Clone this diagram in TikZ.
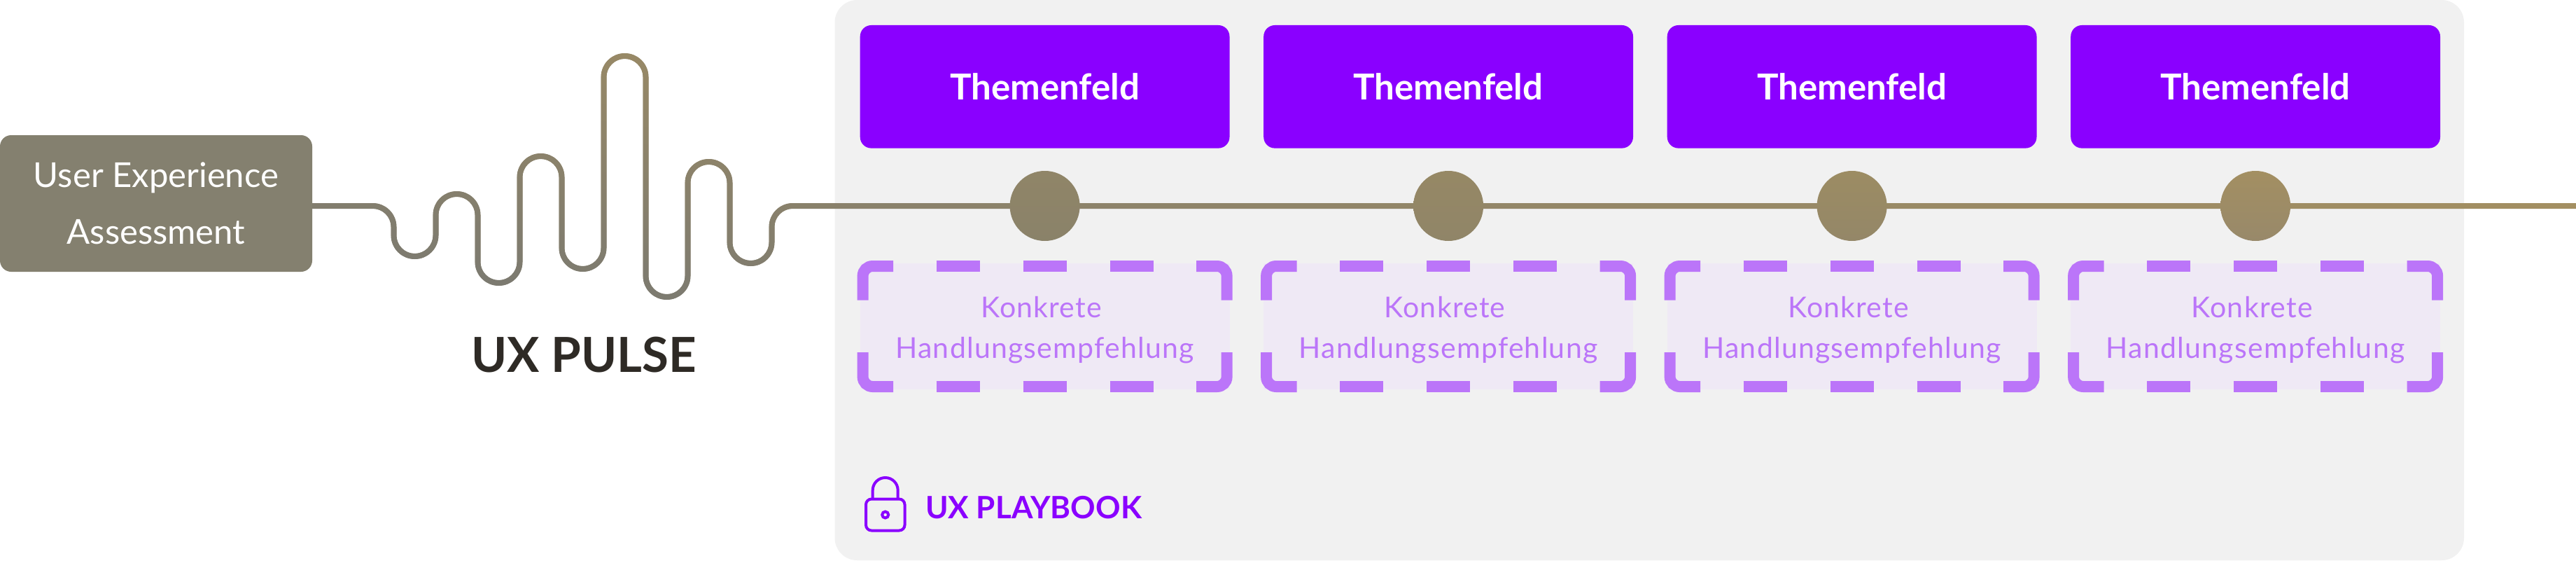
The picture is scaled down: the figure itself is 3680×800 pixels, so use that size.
\documentclass[tikz,border=0pt]{standalone}
\usepackage{fontspec}
\setmainfont{Lato}
\usetikzlibrary{backgrounds}
\definecolor{boxgrey}{HTML}{84806F}
\definecolor{themepurple}{HTML}{8A00FF}
\definecolor{dashpurple}{HTML}{BB75F9}
\definecolor{recfill}{HTML}{EFE9F5}
\definecolor{panelgrey}{HTML}{F1F1F1}
\definecolor{pulseink}{HTML}{2E2A25}
\definecolor{wirelow}{RGB}{116,118,115}
\definecolor{wirehigh}{RGB}{171,147,95}
\definecolor{wiremid}{HTML}{8B8168}
\definecolor{dotAt}{HTML}{908568}\definecolor{dotAb}{HTML}{8A8269}
\definecolor{dotBt}{HTML}{968865}\definecolor{dotBb}{HTML}{908568}
\definecolor{dotCt}{HTML}{9C8C63}\definecolor{dotCb}{HTML}{948768}
\definecolor{dotDt}{HTML}{A38F62}\definecolor{dotDb}{HTML}{98896A}
\newcommand\bendsfwd{592.5/464/-1,652.5/493/1,712.5/426/-1,772.5/547/1,832.5/446/-1,892.5/690/1,952.5/406/-1,1012.5/539/1,1072.5/454/-1}
\newcommand\bendsrev{1072.5/454/-1,1012.5/539/1,952.5/406/-1,892.5/690/1,832.5/446/-1,772.5/547/1,712.5/426/-1,652.5/493/1,592.5/464/-1}
\newcommand\wavefwd[1]{-- (532.5,{506+(#1)}) arc[start angle=90,end angle=0,radius={30+(#1)}]
  \foreach \cx/\cy/\sg in \bendsfwd { -- ({\cx-30-\sg*(#1)},\cy) arc[start angle=180,end angle={180-180*\sg},radius={30+\sg*(#1)}] }
  -- ({1102.5-(#1)},476) arc[start angle=180,end angle=90,radius={30+(#1)}]}
\newcommand\waverev[1]{-- (1132.5,{506+(#1)}) arc[start angle=90,end angle=180,radius={30+(#1)}]
  \foreach \cx/\cy/\sg in \bendsrev { -- ({\cx+30+\sg*(#1)},\cy) arc[start angle={180-180*\sg},end angle=180,radius={30+\sg*(#1)}] }
  -- ({562.5+(#1)},476) arc[start angle=0,end angle=90,radius={30+(#1)}]}
\tikzset{
  assess/.style={fill=boxgrey,rounded corners=8pt,minimum width=223pt,minimum height=97.5pt,inner sep=0pt,text=white,align=center,font=\fontsize{24.5}{40.5}\selectfont},
  theme/.style={fill=themepurple,rounded corners=8pt,minimum width=263.9pt,minimum height=87.8pt,inner sep=0pt,text=white,font=\fontsize{25.5}{30}\selectfont\bfseries},
  rec/.style={fill=recfill,minimum width=263.9pt,minimum height=89.8pt,inner sep=0pt},
  reclabel/.style={inner sep=0pt,text=dashpurple,align=center,font=\fontsize{20.5}{29}\selectfont\addfontfeature{LetterSpace=3}},
  dashpart/.style={draw=dashpurple,line width=8pt,line cap=butt},
  pulsedot/.style={circle,minimum size=50pt,inner sep=0pt},
  wire/.style={draw=wiremid,line width=3.8pt},
  lockline/.style={draw=themepurple,line width=2pt}
}
\begin{document}
\begin{tikzpicture}[x=.5pt,y=.5pt]
\useasboundingbox (0,0) rectangle (3680,800);
\node[assess] (box) at (223,509.5) {User Experience\\Assessment};
\node[font=\fontsize{34.5}{40}\selectfont\bfseries,text=pulseink] (pulse) at (834,293) {UX PULSE};
\foreach \i/\tx/\ct/\cb in {1/1492.6/dotAt/dotAb,2/2069.1/dotBt/dotBb,3/2645.6/dotCt/dotCb,4/3222.1/dotDt/dotDb}{
  \node[theme] (th\i) at (\tx,676.2) {Themenfeld};
  \node[pulsedot,top color=\ct,bottom color=\cb] (dot\i) at (\tx,506) {};
  \node[rec] (rec\i) at (\tx,334.2) {};
  \node[reclabel] (reclabel\i) at (\tx,329) {Konkrete\hspace*{5pt}\\Handlungsempfehlung};
  \begin{scope}[shift={(\tx,0)}]
    \draw[dashpart] (-216.6,420) -- (-246,420) arc[start angle=90,end angle=180,radius=14] -- (-260,371.4);
    \draw[dashpart] (-260,297) -- (-260,262) arc[start angle=180,end angle=270,radius=14] -- (-216.6,248);
    \draw[dashpart] (216.6,420) -- (246,420) arc[start angle=90,end angle=0,radius=14] -- (260,371.4);
    \draw[dashpart] (260,297) -- (260,262) arc[start angle=0,end angle=-90,radius=14] -- (216.6,248);
    \foreach \dx in {-124,0,124}{
      \draw[dashpart] ({\dx-31},420) -- ({\dx+31},420);
      \draw[dashpart] ({\dx-31},248) -- ({\dx+31},248);
    }
  \end{scope}
}
\coordinate (wireend) at (3680,506);
\begin{pgfonlayer}{background}
  \fill[white] (0,0) rectangle (3680,800);
  \fill[panelgrey,rounded corners=16pt] (1192.5,0) rectangle (3520,800);
  \draw[wire] (box.east |- dot1) \wavefwd{0} -- (dot1) -- (dot2) -- (dot3) -- (dot4) -- (wireend);
  \begin{scope}
    \clip (446,510) \wavefwd{4} -- (3680,510) -- (3680,502) \waverev{-4} -- (446,502) -- cycle;
    \begin{scope}[transform canvas={shift={(446,432)},rotate=-7.5}]
      \shade[bottom color=wirelow,top color=wirehigh] (-5000,-100) rectangle (5000,596);
    \end{scope}
  \end{scope}
\end{pgfonlayer}
\node[font=\fontsize{22}{26}\selectfont\bfseries,text=themepurple,anchor=west] (playbook) at (1315,75) {UX PLAYBOOK};
\draw[lockline,rounded corners=4pt] (1237,42.5) rectangle (1292.5,87.5);
\draw[lockline] (1246.7,88) -- (1246.7,100) arc[start angle=180,end angle=0,radius=18] -- (1282.7,88);
\draw[lockline] (1264.7,65) circle[radius=4.5];
\end{tikzpicture}
\end{document}
